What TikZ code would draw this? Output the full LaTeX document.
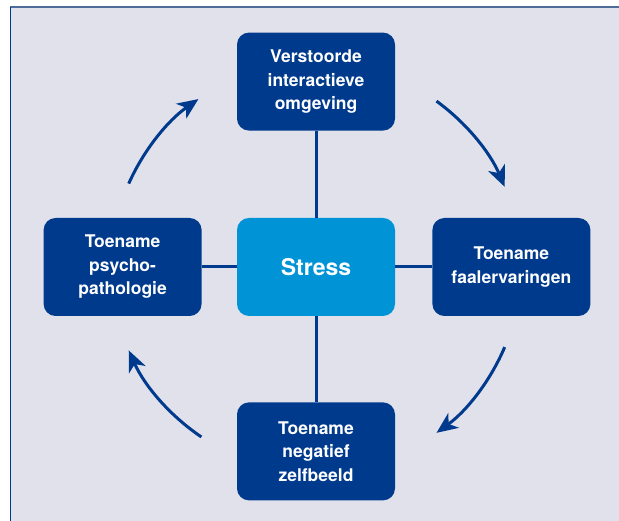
\documentclass[tikz,border=0pt]{standalone}
\usepackage{fontspec}
\setmainfont{TeX Gyre Heros}
\usetikzlibrary{positioning,arrows.meta}
\definecolor{panel}{HTML}{E1E1EC}
\definecolor{frameline}{HTML}{4E6C9A}
\definecolor{darkbox}{HTML}{003A8D}
\definecolor{lightbox}{HTML}{0093D5}
\tikzset{
  box/.style={draw=none,fill=darkbox,rounded corners=12pt,minimum width=158pt,minimum height=98pt,
    text=white,align=center,inner sep=0pt,font=\bfseries\fontsize{17.5}{23.5}\selectfont},
  hub/.style={box,fill=lightbox,font=\bfseries\fontsize{23}{28}\selectfont},
  link/.style={draw=darkbox,line width=3pt},
  cycle/.style={draw=darkbox,line width=3pt,-{Stealth[length=21pt,width=18pt,inset=6pt]}}
}
\begin{document}
\begin{tikzpicture}[x=1pt,y=1pt]
	\useasboundingbox (0,0) rectangle (619,521);
	% panel
	\fill[panel] (10,0) rectangle (619,513.5);
	\draw[frameline,line width=2pt] (10,513.5)--(619,513.5);
	\draw[darkbox,line width=1pt] (10.5,0)--(10.5,513.5);
	% nodes
	\node[hub] (stress) at (316,254) {Stress};
	\node[box,above=87pt of stress] (omgeving) {Verstoorde\\interactieve\\omgeving};
	\node[box,below=86pt of stress] (zelfbeeld) {Toename\\negatief\\zelfbeeld};
	\node[box,left=35pt of stress] (patho) {Toename\\psycho-\\pathologie};
	\node[box,right=37pt of stress] (falen) {Toename\\faalervaringen};
	% links
	\draw[link] (omgeving)--(stress);
	\draw[link] (stress)--(zelfbeeld);
	\draw[link] (patho)--(stress);
	\draw[link] (stress)--(falen);
	% cycle arrows
	\draw[cycle] ([shift={(156:205)}]stress.center) arc[start angle=156,end angle=125,radius=205];
	\draw[cycle] ([shift={(54:205)}]stress.center) arc[start angle=54,end angle=23,radius=205];
	\draw[cycle] ([shift={(-23:205)}]stress.center) arc[start angle=-23,end angle=-54,radius=205];
	\draw[cycle] ([shift={(-124:205)}]stress.center) arc[start angle=-124,end angle=-156,radius=205];
\end{tikzpicture}
\end{document}
